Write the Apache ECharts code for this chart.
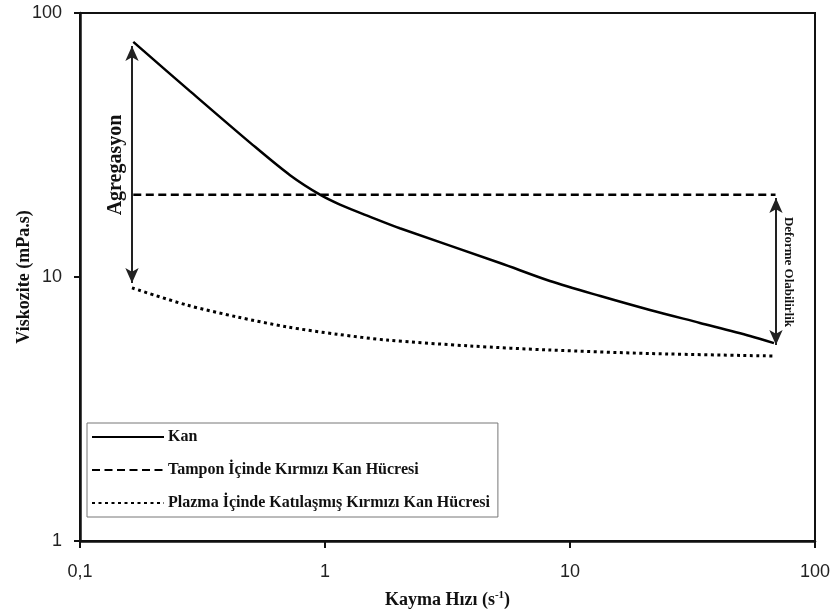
<!DOCTYPE html>
<html>
<head>
<meta charset="utf-8">
<script src="https://cdn.jsdelivr.net/npm/echarts@6/dist/echarts.min.js"></script>
<style>html,body{margin:0;padding:0;background:#fff;}#c{width:835px;height:611px;}</style>
</head>
<body>
<div id="c"></div>
<script>
// ---- data ----
const seriesNames = ['Kan', 'Tampon İçinde Kırmızı Kan Hücresi', 'Plazma İçinde Katılaşmış Kırmızı Kan Hücresi'];
const kanX = [0.165, 0.281, 0.508, 0.720, 0.954, 1.151, 1.53, 2.02, 5.18, 8.28, 13.3, 21.2, 33.9, 54.3, 68.0];
const kanY = [77.7, 50.6, 31.6, 24.3, 20.5, 18.8, 16.9, 15.3, 11.3, 9.66, 8.47, 7.50, 6.70, 5.98, 5.62];
const tamponX = [0.165, 69.0];
const tamponY = [20.5, 20.5];
const plazmaX = [0.163, 0.273, 0.438, 0.70, 1.12, 1.79, 3.91, 8.28, 21.2, 68.0];
const plazmaY = [9.09, 7.83, 7.06, 6.47, 6.07, 5.77, 5.48, 5.29, 5.13, 5.02];
const xTickLabels = {'-1': '0,1', '0': '1', '1': '10', '2': '100'};
const yTickLabels = {'0': '1', '1': '10', '2': '100'};
const agregasyonArrow = {x: 0.163, from: 75.0, to: 9.49, label: 'Agregasyon'};
const deformeArrow = {x: 69.3, from: 19.9, to: 5.53, label: 'Deforme Olabilirlik'};
const xName = 'Kayma Hızı';
const yName = 'Viskozite (mPa.s)';

const zip = (a, b) => a.map((v, i) => [v, b[i]]);
const serif = '"Liberation Serif", "DejaVu Serif", serif';
const sans = '"Liberation Sans", Arial, sans-serif';

const chart = echarts.init(document.getElementById('c'), null, {renderer: 'canvas'});
const arrowLine = (a) => [{coord: [a.x, a.from]}, {coord: [a.x, a.to]}];

chart.setOption({
  backgroundColor: '#fff',
  animation: false,
  grid: {left: 80, right: 20, top: 13, bottom: 70, outerBoundsMode: 'none', containLabel: false,
         show: true, borderColor: '#111', borderWidth: 2, backgroundColor: 'transparent'},
  legend: {
    data: seriesNames,
    orient: 'vertical',
    left: 87, top: 423,
    itemWidth: 72, itemHeight: 14, itemGap: 17,
    padding: [6, 8, 6, 4],
    borderColor: '#777', borderWidth: 1,
    itemStyle: {opacity: 0},
    lineStyle: {opacity: 1},
    textStyle: {fontFamily: serif, fontWeight: 'bold', fontSize: 16, color: '#111', padding: [0, 0, 0, -1]},
    selectedMode: false
  },
  xAxis: {
    type: 'log', logBase: 10, min: 0.1, max: 100,
    name: '{b|' + xName + ' (s}{sup|-1}{b|)}',
    nameLocation: 'middle', nameGap: 49, nameMoveOverlap: false,
    nameTextStyle: {
      rich: {
        b: {fontFamily: serif, fontWeight: 'bold', fontSize: 18, color: '#111'},
        sup: {fontFamily: serif, fontWeight: 'bold', fontSize: 11, color: '#111', padding: [0, 0, 10, 0]}
      }
    },
    axisLine: {show: true, lineStyle: {color: '#111', width: 2.5}},
    axisTick: {show: true, inside: false, length: 7, lineStyle: {color: '#111', width: 2}},
    minorTick: {show: false},
    splitLine: {show: false},
    axisLabel: {
      margin: 22, fontFamily: sans, fontSize: 18, color: '#222',
      formatter: v => xTickLabels[String(Math.round(Math.log10(v)))] || ''
    }
  },
  yAxis: {
    type: 'log', logBase: 10, min: 1, max: 100,
    name: yName,
    nameLocation: 'middle', nameGap: 47, nameRotate: 90, nameMoveOverlap: false,
    nameTextStyle: {fontFamily: serif, fontWeight: 'bold', fontSize: 18, color: '#111'},
    axisLine: {show: true, lineStyle: {color: '#111', width: 2.5}},
    axisTick: {show: true, inside: false, length: 6, lineStyle: {color: '#111', width: 2}},
    splitLine: {show: false},
    axisLabel: {
      margin: 18, fontFamily: sans, fontSize: 18, color: '#222',
      formatter: v => yTickLabels[String(Math.round(Math.log10(v)))] || ''
    }
  },
  series: [
    {
      name: seriesNames[0], type: 'line', data: zip(kanX, kanY),
      smooth: 0.3, showSymbol: false, symbol: 'none',
      lineStyle: {color: '#000', width: 2.5}, itemStyle: {color: '#000'}
    },
    {
      name: seriesNames[1], type: 'line', data: zip(tamponX, tamponY),
      showSymbol: false, symbol: 'none',
      lineStyle: {color: '#000', width: 2.5, type: [8, 4.5]}, itemStyle: {color: '#000'}
    },
    {
      name: seriesNames[2], type: 'line', data: zip(plazmaX, plazmaY),
      smooth: 0.3, showSymbol: false, symbol: 'none',
      lineStyle: {color: '#000', width: 3, type: [3, 3.5]}, itemStyle: {color: '#000'}
    },
    {
      name: 'arrows', type: 'line', data: [],
      markLine: {
        silent: true, animation: false,
        symbol: ['arrow', 'arrow'], symbolSize: [10, 15],
        lineStyle: {color: '#222', width: 2, type: 'solid'},
        label: {show: false},
        data: [arrowLine(agregasyonArrow), arrowLine(deformeArrow)]
      }
    }
  ],
  graphic: [
    {type: 'text', x: 116, y: 165, rotation: Math.PI / 2,
     style: {text: agregasyonArrow.label, font: 'bold 20px ' + serif, fill: '#111', align: 'center', verticalAlign: 'middle'}},
    {type: 'text', x: 788, y: 272, rotation: -Math.PI / 2,
     style: {text: deformeArrow.label, font: 'bold 13px ' + serif, fill: '#111', align: 'center', verticalAlign: 'middle'}}
  ]
});
</script>
</body>
</html>
